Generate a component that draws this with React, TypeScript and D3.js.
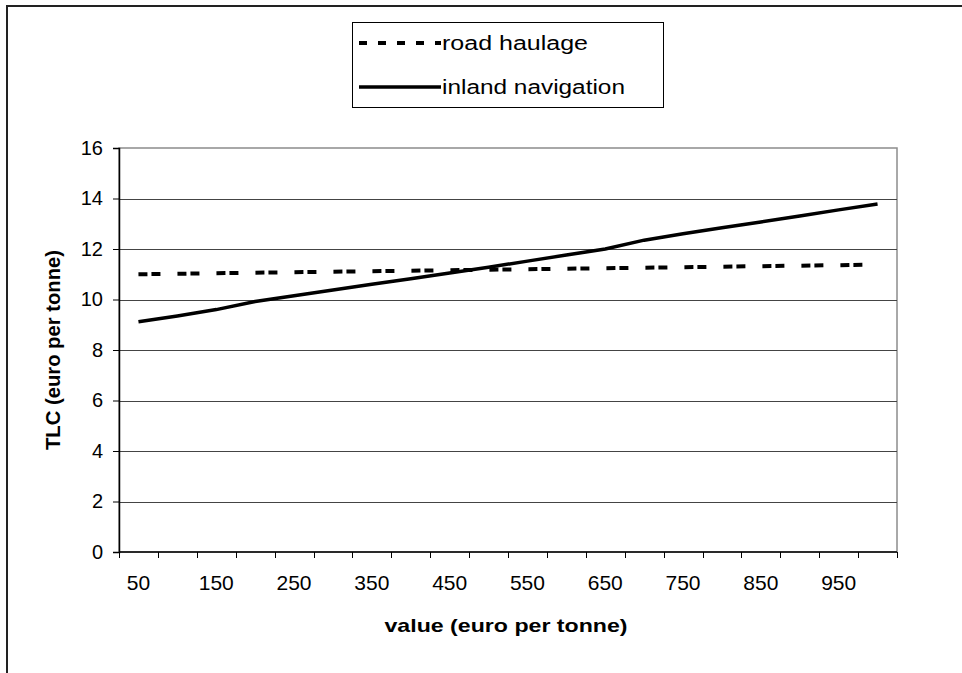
import React, { useRef, useEffect } from "react";
import * as d3 from "d3";

const categories = [50, 100, 150, 200, 250, 300, 350, 400, 450, 500, 550, 600, 650, 700, 750, 800, 850, 900, 950, 1000];
const roadHaulage = [11.0, 11.02, 11.04, 11.06, 11.08, 11.1, 11.12, 11.14, 11.16, 11.18, 11.2, 11.22, 11.24, 11.26, 11.28, 11.3, 11.32, 11.34, 11.36, 11.38];
const inlandNavigation = [9.12, 9.35, 9.6, 9.92, 10.15, 10.38, 10.6, 10.82, 11.05, 11.28, 11.52, 11.76, 12.0, 12.35, 12.6, 12.84, 13.07, 13.31, 13.55, 13.78];
const yTicks = [0, 2, 4, 6, 8, 10, 12, 14, 16];

const W = 962;
const H = 673;
const FONT = "'Liberation Sans', Arial, sans-serif";

const App: React.FC = () => {
  const ref = useRef<SVGSVGElement | null>(null);

  useEffect(() => {
    if (!ref.current) return;
    const svg = d3.select(ref.current);
    svg.selectAll("*").remove();

    const left = 119;
    const right = 897;
    const top = 148;
    const bottom = 552;

    // outer chart frame (runs off the right and bottom edges)
    svg
      .append("rect")
      .attr("x", 7)
      .attr("y", 6)
      .attr("width", W + 20)
      .attr("height", H + 20)
      .attr("fill", "white")
      .attr("stroke", "#222")
      .attr("stroke-width", 2);

    const x = d3
      .scaleBand<number>()
      .domain(categories)
      .range([left, right])
      .padding(0);
    const y = d3.scaleLinear().domain([0, 16]).range([bottom, top]);
    const cx = (c: number) => (x(c) as number) + x.bandwidth() / 2;

    // plot area border
    svg
      .append("rect")
      .attr("x", left)
      .attr("y", top)
      .attr("width", right - left)
      .attr("height", bottom - top)
      .attr("fill", "white")
      .attr("stroke", "#8c8c8c")
      .attr("stroke-width", 1.5);

    // gridlines
    svg
      .append("g")
      .selectAll("line")
      .data(yTicks.filter((t) => t > 0 && t < 16))
      .enter()
      .append("line")
      .attr("x1", left)
      .attr("x2", right)
      .attr("y1", (d) => Math.round(y(d)) + 0.5)
      .attr("y2", (d) => Math.round(y(d)) + 0.5)
      .attr("stroke", "#444")
      .attr("stroke-width", 1);

    // y axis
    const yAxis = svg
      .append("g")
      .attr("transform", `translate(${left},0)`)
      .call(d3.axisLeft(y).tickValues(yTicks).tickSize(6).tickPadding(10));
    yAxis.select(".domain").attr("stroke", "#000").attr("stroke-width", 1.5);
    yAxis.selectAll(".tick line").attr("stroke", "#000");
    yAxis
      .selectAll(".tick text")
      .attr("font-family", FONT)
      .attr("font-size", 20)
      .attr("fill", "#000");

    // x axis: ticks on band boundaries, labels every other category
    const xg = svg.append("g");
    xg.append("line")
      .attr("x1", left)
      .attr("x2", right)
      .attr("y1", bottom)
      .attr("y2", bottom)
      .attr("stroke", "#000")
      .attr("stroke-width", 1.5);
    const bounds = [...categories.map((c) => x(c) as number), right];
    xg.selectAll("line.tk")
      .data(bounds)
      .enter()
      .append("line")
      .attr("class", "tk")
      .attr("x1", (d) => Math.round(d) + 0.5)
      .attr("x2", (d) => Math.round(d) + 0.5)
      .attr("y1", bottom)
      .attr("y2", bottom + 6)
      .attr("stroke", "#000");
    xg.selectAll("text")
      .data(categories.filter((_, i) => i % 2 === 0))
      .enter()
      .append("text")
      .attr("x", (d) => cx(d))
      .attr("y", bottom + 38)
      .attr("text-anchor", "middle")
      .attr("font-family", FONT)
      .attr("font-size", 21)
      .text((d) => d);

    // axis titles
    svg
      .append("text")
      .attr("x", 506)
      .attr("y", 632)
      .attr("text-anchor", "middle")
      .attr("font-family", FONT)
      .attr("font-weight", "bold")
      .attr("font-size", 19)
      .attr("textLength", 243)
      .attr("lengthAdjust", "spacingAndGlyphs")
      .text("value (euro per tonne)");
    svg
      .append("text")
      .attr("transform", `translate(60,${(top + bottom) / 2}) rotate(-90)`)
      .attr("text-anchor", "middle")
      .attr("font-family", FONT)
      .attr("font-weight", "bold")
      .attr("font-size", 20)
      .attr("textLength", 200)
      .attr("lengthAdjust", "spacingAndGlyphs")
      .text("TLC (euro per tonne)");

    // series
    const line = d3
      .line<number>()
      .x((_, i) => cx(categories[i]))
      .y((d) => y(d));

    svg
      .append("path")
      .datum(inlandNavigation)
      .attr("d", line)
      .attr("fill", "none")
      .attr("stroke", "#000")
      .attr("stroke-width", 3.5);
    svg
      .append("path")
      .datum(roadHaulage)
      .attr("d", line)
      .attr("fill", "none")
      .attr("stroke", "#000")
      .attr("stroke-width", 4)
      .attr("stroke-dasharray", "9,4,9,17");

    // legend
    const lg = svg.append("g");
    lg.append("rect")
      .attr("x", 352.5)
      .attr("y", 22.5)
      .attr("width", 311)
      .attr("height", 85)
      .attr("fill", "white")
      .attr("stroke", "#000")
      .attr("stroke-width", 1);
    const items = [
      { name: "road haulage", dash: "8,11", len: 146 },
      { name: "inland navigation", dash: null as string | null, len: 183 },
    ];
    items.forEach((it, i) => {
      const yy = 43 + i * 44;
      lg.append("line")
        .attr("x1", 359)
        .attr("x2", 441)
        .attr("y1", yy)
        .attr("y2", yy)
        .attr("stroke", "#000")
        .attr("stroke-width", it.dash ? 4 : 3.5)
        .attr("stroke-dasharray", it.dash);
      lg.append("text")
        .attr("x", 442)
        .attr("y", yy + 7)
        .attr("font-family", FONT)
        .attr("font-size", 20)
        .attr("textLength", it.len)
        .attr("lengthAdjust", "spacingAndGlyphs")
        .text(it.name);
    });
  }, []);

  return (
    <svg
      ref={ref}
      width={W}
      height={H}
      style={{ position: "absolute", left: 0, top: 0, background: "white" }}
    />
  );
};

export default App;
